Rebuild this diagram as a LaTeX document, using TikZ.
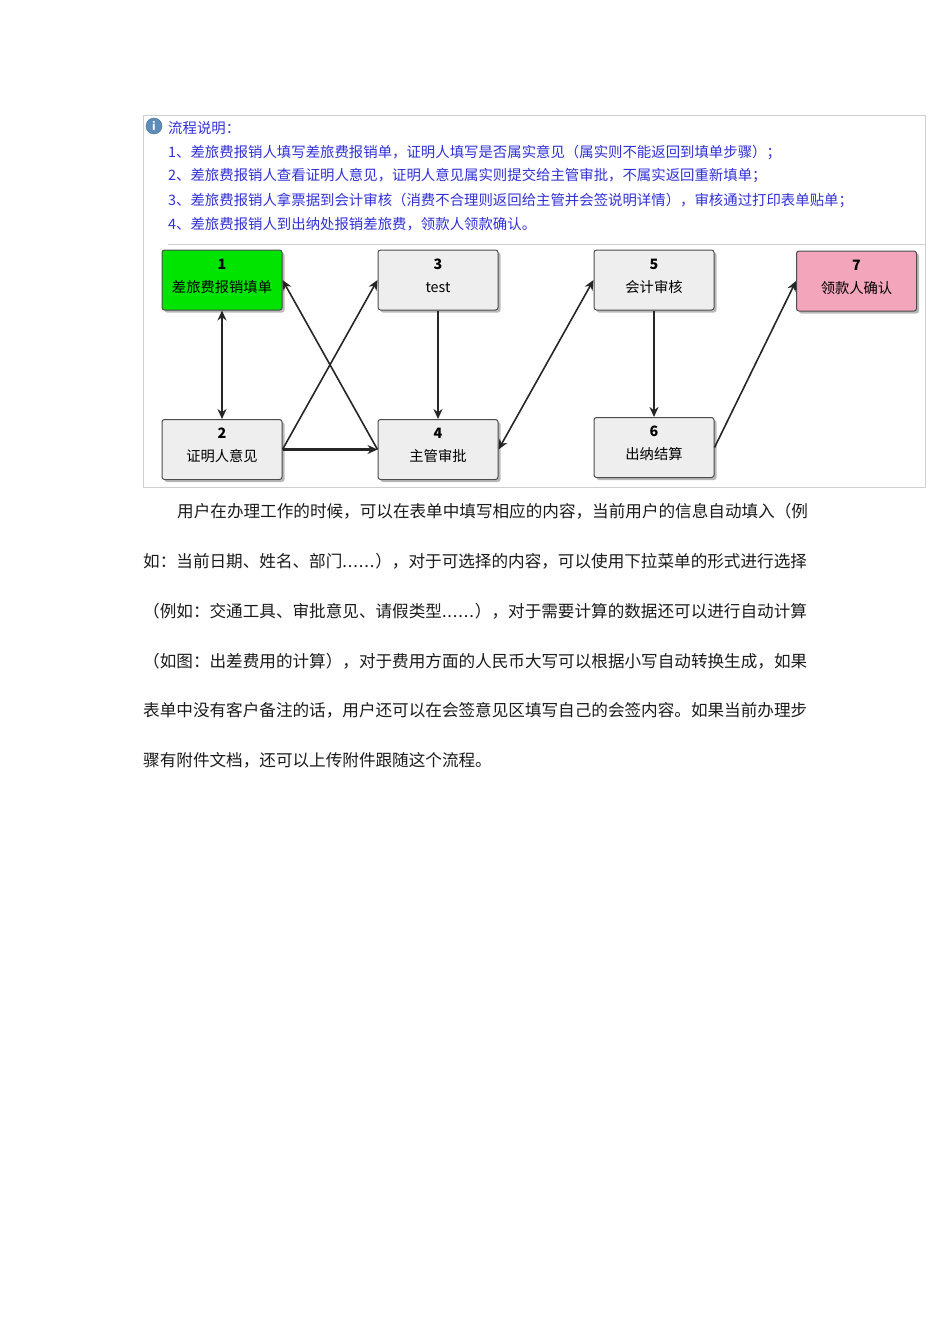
\documentclass[tikz,border=0pt]{standalone}
\usepackage{fontspec}
\setmainfont{Noto Sans CJK SC}
\usetikzlibrary{arrows.meta}
\usetikzlibrary{shadows}
\definecolor{noteblue}{HTML}{3030D8}
\definecolor{framegray}{HTML}{CFCFCF}
\definecolor{stepgray}{HTML}{EEEEEE}
\definecolor{stepgreen}{HTML}{00E400}
\definecolor{steppink}{HTML}{F3A5BB}
\definecolor{bodygray}{HTML}{1A1A1A}
\definecolor{iconblue}{HTML}{5F8DBA}
\newcommand{\bodydots}{\hbox to 33pt{.\hfil.\hfil.\hfil.\hfil.\hfil.\hfil}}

\begin{document}
\begin{tikzpicture} [
  x=1pt,
  y=-1pt,
  auto,
  node distance=216pt,
  stepbox/.style={rectangle,draw=black!70,line width=1pt,rounded corners=2.5pt,align=center,
    fill=stepgray,minimum width=120pt,minimum height=60pt,inner sep=0pt,text depth=9pt,
    font=\fontsize{14.3}{23}\selectfont,
    drop shadow={shadow xshift=2.5pt,shadow yshift=-2.5pt,opacity=0.55}},
  noteline/.style={anchor=west,inner sep=0pt,text=noteblue,font=\fontsize{14.4}{16}\selectfont},
  bodyline/.style={anchor=west,inner sep=0pt,text=bodygray,font=\fontsize{16.6}{18}\selectfont},
  link/.style={draw=black!85,line width=1.6pt,-{Stealth[length=10pt,width=9pt,fill=black]}},
  duallink/.style={link,{Stealth[length=10pt,width=9pt,fill=black]}-{Stealth[length=10pt,width=9pt,fill=black]}},
  ]

  \useasboundingbox (0,0) rectangle (950,1344);

  % frame of the flow panel
  \draw[framegray,line width=0.8pt] (143,115) rectangle (925,487);
  \draw[framegray,line width=1pt] (168,244) -- (925,244);

  \node[circle,fill=iconblue,draw=iconblue!80!black,minimum size=16pt,inner sep=0pt,text=white,
    font=\bfseries\fontsize{11}{12}\selectfont] (icon) at (154,126) {i};
  \node[noteline] (title) at (168,128) {流程说明：};
  \node[noteline] (note1) at (168,152) {1、差旅费报销人填写差旅费报销单，证明人填写是否属实意见（属实则不能返回到填单步骤）；};
  \node[noteline] (note2) at (168,176) {2、差旅费报销人查看证明人意见，证明人意见属实则提交给主管审批，不属实返回重新填单；};
  \node[noteline] (note3) at (168,200) {3、差旅费报销人拿票据到会计审核（消费不合理则返回给主管并会签说明详情），审核通过打印表单贴单；};
  \node[noteline] (note4) at (168,224) {4、差旅费报销人到出纳处报销差旅费，领款人领款确认。};

  \node[stepbox,fill=stepgreen] (s1) at (222,280) {\textbf{1}\\差旅费报销填单};
  \node[stepbox, right of=s1] (s3) {\textbf{3}\\test};
  \node[stepbox, right of=s3] (s5) {\textbf{5}\\会计审核};
  \node[stepbox,fill=steppink] (s7) at (856.5,281) {\textbf{7}\\领款人确认};
  \node[stepbox] (s2) at (222,449.5) {\textbf{2}\\证明人意见};
  \node[stepbox, right of=s2] (s4) {\textbf{4}\\主管审批};
  \node[stepbox, right of=s4,yshift=2pt] (s6) {\textbf{6}\\出纳结算};

  \draw[duallink] (s1) -- (s2);
  \draw[link] (s2.east) -- (s3.west);
  \draw[link,line width=2.4pt] (s2.east) -- (s4.west);
  \draw[link] (s3) -- (s4);
  \draw[link] (s4.west) -- (s1.east);
  \draw[duallink] (s4.east) -- (s5.west);
  \draw[link] (s5) -- (s6);
  \draw[link] (s6.east) -- (s7.west);

  \node[bodyline] (para1) at (177,511.5) {用户在办理工作的时候，可以在表单中填写相应的内容，当前用户的信息自动填入（例};
  \node[bodyline] (para2) at (143,561.5) {如：当前日期、姓名、部门\bodydots），对于可选择的内容，可以使用下拉菜单的形式进行选择};
  \node[bodyline] (para3) at (143,611.5) {（例如：交通工具、审批意见、请假类型\bodydots），对于需要计算的数据还可以进行自动计算};
  \node[bodyline] (para4) at (143,661.5) {（如图：出差费用的计算），对于费用方面的人民币大写可以根据小写自动转换生成，如果};
  \node[bodyline] (para5) at (143,710.5) {表单中没有客户备注的话，用户还可以在会签意见区填写自己的会签内容。如果当前办理步};
  \node[bodyline] (para6) at (143,760.5) {骤有附件文档，还可以上传附件跟随这个流程。};
\end{tikzpicture}
\end{document}
